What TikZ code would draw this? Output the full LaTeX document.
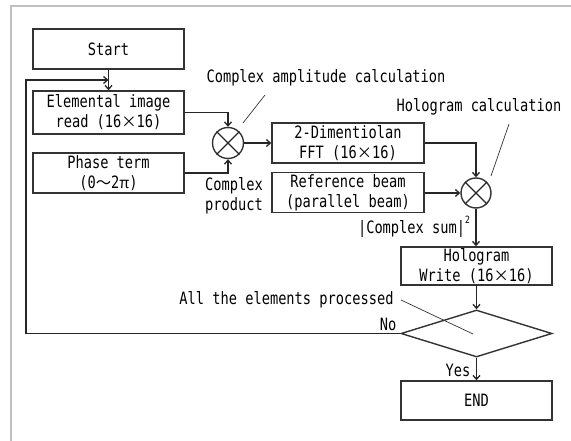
\documentclass[tikz,border=0pt]{standalone}
\usepackage{fontspec}
\setmonofont[FakeStretch=0.805]{DejaVu Sans Mono}
\newfontfamily\cjk[Scale=0.9]{Noto Sans CJK JP}
\usetikzlibrary{arrows.meta,shapes.geometric}
\newcommand{\tms}{{\cjk ×}}
\begin{document}
\begin{tikzpicture}[x=1pt,y=-1pt,
  every node/.style={font=\ttfamily\fontsize{17}{20}\selectfont, text=black},
  procbox/.style={draw=black!80, line width=1.4pt, inner sep=0pt, minimum width=151pt, minimum height=40pt, align=center},
  mult/.style={draw=black!80, line width=1.4pt, circle, inner sep=0pt, minimum size=31pt},
  decision/.style={draw=black!80, line width=1.4pt, diamond, inner sep=0pt, shape aspect=3.2, minimum width=151pt, minimum height=47pt},
  conn/.style={draw=black!85, line width=1.3pt},
  flow/.style={conn, -{Straight Barb[length=4pt,width=7pt]}},
  leader/.style={draw=black!80, line width=0.7pt},
  lbl/.style={inner sep=0pt}
]
\useasboundingbox (0,0) rectangle (571,441);
% frame edges
\draw[black!25, line width=2pt] (571,6) -- (11,6) -- (11,441);

% process boxes
\node[procbox] (start) at (108.5,49) {Start};
\node[procbox, minimum height=43pt] (elem) at (108.5,112.5) {Elemental image\\read (16\tms 16)};
\node[procbox] (phase) at (108.5,173) {Phase term\\(0{\cjk 〜}2{\cjk π})};
\node[mult] (m1) at (228,143) {};
\node[procbox, minimum width=152pt] (fft) at (348,143) {2-Dimentiolan\\FFT (16\tms 16)};
\node[procbox, minimum width=152pt] (ref) at (348,192.5) {Reference beam\\(parallel beam)};
\node[mult, minimum size=30pt] (m2) at (476,193) {};
\node[procbox, minimum height=38pt] (holo) at (476.5,266) {Hologram\\Write (16\tms 16)};
\node[decision] (dia) at (476.5,333.5) {};
\node[procbox, minimum height=39pt] (end) at (476.5,400.5) {END};

% crosses inside the multipliers
\foreach \m in {m1,m2} {
  \draw[conn] (\m.45) -- (\m.225) (\m.135) -- (\m.315);
}

% labels
\node[lbl] (lamp) at (326,78) {Complex amplitude calculation};
\node[lbl] (lhol) at (479,107) {Hologram calculation};
\node[lbl, align=left] (lprod) at (234,196) {Complex\\product};
\node[lbl] (lsum) at (414,227) {|Complex sum|\raisebox{1.1ex}{\fontsize{10}{10}\selectfont 2}};
\node[lbl] (lall) at (286.5,300) {All the elements processed};
\node[lbl] (lno) at (388,324) {No};
\node[lbl] (lyes) at (458,370) {Yes};

% leader lines
\coordinate (a1) at (243,123); \coordinate (a2) at (265,95);
\coordinate (b1) at (491,176); \coordinate (b2) at (509,124);
\coordinate (c1) at (401,300); \coordinate (c2) at (473,334);
\draw[leader] (a1) -- (a2);
\draw[leader] (b1) -- (b2);
\draw[leader] (c1) -- (c2);

% flow connectors
\coordinate (loopB) at (26,333.5);
\coordinate (loopT) at (26,80);
\draw[flow] (start) -- (elem);
\draw[flow] (dia.west) -- (loopB) -- (loopT) -- (start.south |- loopT);
\draw[flow] (elem.east) -| (m1.north);
\draw[flow] (phase.east) -| (m1.south);
\draw[flow] (m1.east) -- (fft.west);
\draw[flow] (fft.east) -| (m2.north);
\draw[flow] (ref.east |- m2.west) -- (m2.west);
\draw[flow] (m2.south) -- (holo.north -| m2.south);
\draw[flow] (holo) -- (dia.north);
\draw[flow] (dia.south) -- (end);
\end{tikzpicture}
\end{document}
